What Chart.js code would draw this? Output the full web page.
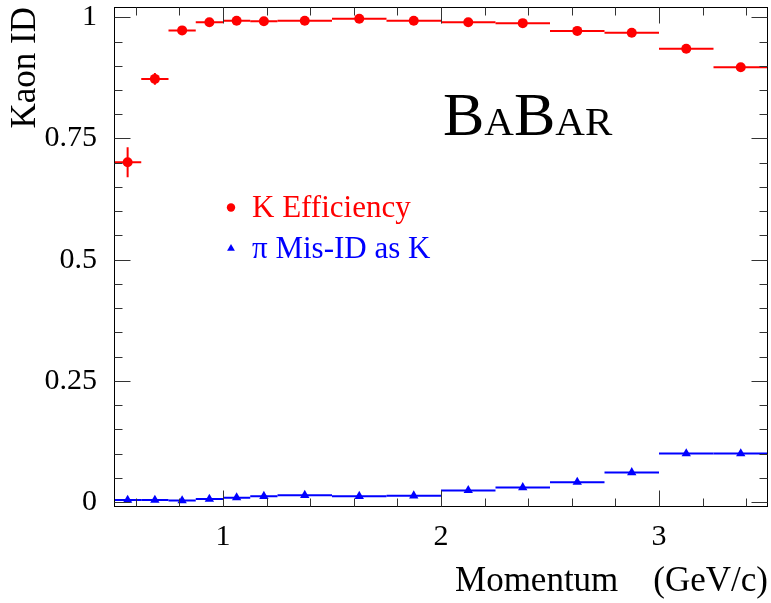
<!DOCTYPE html>
<html><head><meta charset="utf-8">
<script src="https://cdn.jsdelivr.net/npm/chart.js@4.4.0/dist/chart.umd.min.js"></script>
<style>html,body{margin:0;padding:0;background:#fff;overflow:hidden}canvas{display:block}</style>
</head><body>
<canvas id="c" width="771" height="603"></canvas>
<script>
// ---- data ----
const binLow  = [0.5, 0.625, 0.75, 0.875, 1.0, 1.125, 1.25, 1.5, 1.75, 2.0, 2.25, 2.5, 2.75, 3.0, 3.25];
const binHigh = [0.625, 0.75, 0.875, 1.0, 1.125, 1.25, 1.5, 1.75, 2.0, 2.25, 2.5, 2.75, 3.0, 3.25, 3.5];
const binCenter = [0.5625, 0.6875, 0.8125, 0.9375, 1.0625, 1.1875, 1.375, 1.625, 1.875, 2.125, 2.375, 2.625, 2.875, 3.125, 3.375];
const kaonEff = [0.701, 0.873, 0.973, 0.990, 0.993, 0.992, 0.993, 0.997, 0.993, 0.990, 0.988, 0.972, 0.968, 0.935, 0.897];
const kaonErr = [0.031, 0.012, 0.005, 0.003, 0.003, 0.003, 0.002, 0.002, 0.002, 0.002, 0.002, 0.003, 0.003, 0.004, 0.005];
const pionMisId = [0.004, 0.004, 0.003, 0.006, 0.009, 0.012, 0.014, 0.012, 0.013, 0.024, 0.030, 0.041, 0.061, 0.100, 0.100];
const pionErr = [0.002, 0.002, 0.002, 0.002, 0.002, 0.002, 0.002, 0.002, 0.002, 0.002, 0.002, 0.003, 0.003, 0.004, 0.004];
const xMajorTicks = [1, 2, 3];
const xTickLabels = ['1', '2', '3'];
const xMinorTicks = [0.6, 0.8, 1.2, 1.4, 1.6, 1.8, 2.2, 2.4, 2.6, 2.8, 3.2, 3.4];
const yMajorTicks = [0, 0.25, 0.5, 0.75, 1];
const yTickLabels = ['0', '0.25', '0.5', '0.75', '1'];
const yMinorTicks = [0.05, 0.1, 0.15, 0.2, 0.3, 0.35, 0.4, 0.45, 0.55, 0.6, 0.65, 0.7, 0.8, 0.85, 0.9, 0.95];
const seriesNames = ['K Efficiency', 'π Mis-ID as K'];
const xTitle = 'Momentum    (GeV/c)';
const yTitle = 'Kaon ID';

const RED = '#ff0000', BLUE = '#0000ff';
const SERIF = "'Liberation Serif', 'Times New Roman', serif";

function labelFor(v, majors, labels) {
  for (let i = 0; i < majors.length; i++) if (Math.abs(majors[i] - v) < 1e-6) return labels[i];
  return '';
}

const errorBars = {
  id: 'errorBars',
  beforeDatasetsDraw(chart) {
    const ctx = chart.ctx, xs = chart.scales.x, ys = chart.scales.y;
    const sets = [[kaonEff, kaonErr, RED], [pionMisId, pionErr, BLUE]];
    ctx.save();
    ctx.lineWidth = 2;
    sets.forEach(([vals, errs, col]) => {
      ctx.strokeStyle = col;
      for (let i = 0; i < vals.length; i++) {
        const yp = ys.getPixelForValue(vals[i]);
        ctx.beginPath();
        ctx.moveTo(xs.getPixelForValue(binLow[i]), yp);
        ctx.lineTo(xs.getPixelForValue(binHigh[i]), yp);
        const xc = xs.getPixelForValue(binCenter[i]);
        ctx.moveTo(xc, ys.getPixelForValue(vals[i] - errs[i]));
        ctx.lineTo(xc, ys.getPixelForValue(vals[i] + errs[i]));
        ctx.stroke();
      }
    });
    ctx.restore();
  }
};

const frameTicks = {
  id: 'frameTicks',
  afterDraw(chart) {
    const ctx = chart.ctx, a = chart.chartArea, xs = chart.scales.x, ys = chart.scales.y;
    ctx.save();
    ctx.strokeStyle = '#000';
    ctx.lineWidth = 1;
    const L = Math.round(a.left) + 0.5, R = Math.round(a.right) - 0.5;
    const T = Math.round(a.top) + 0.5, B = Math.round(a.bottom) - 0.5;
    ctx.strokeRect(L, T, R - L, B - T);
    ctx.strokeStyle = '#333';
    const major = 16, minor = 8;
    ctx.beginPath();
    const xt = (v, len) => {
      const p = Math.round(xs.getPixelForValue(v)) + 0.5;
      ctx.moveTo(p, B); ctx.lineTo(p, B - len);
      ctx.moveTo(p, T); ctx.lineTo(p, T + len);
    };
    const yt = (v, len) => {
      const p = Math.round(ys.getPixelForValue(v)) + 0.5;
      ctx.moveTo(L, p); ctx.lineTo(L + len, p);
      ctx.moveTo(R, p); ctx.lineTo(R - len, p);
    };
    xMajorTicks.forEach(v => xt(v, major));
    xMinorTicks.forEach(v => xt(v, minor));
    yMajorTicks.forEach(v => yt(v, major));
    yMinorTicks.forEach(v => yt(v, minor));
    ctx.stroke();
    ctx.restore();
  }
};

const annotations = {
  id: 'annotations',
  afterDraw(chart) {
    const ctx = chart.ctx;
    ctx.save();
    // BaBar logo text
    ctx.fillStyle = '#000';
    ctx.textBaseline = 'alphabetic';
    ctx.textAlign = 'left';
    let x = 443;
    const by = 135;
    const parts = [['B', 62], ['A', 41], ['B', 62], ['AR', 41]];
    parts.forEach(([t, s]) => {
      ctx.font = s + 'px ' + SERIF;
      ctx.fillText(t, x, by);
      x += ctx.measureText(t).width;
    });
    // legend
    ctx.font = '31px ' + SERIF;
    ctx.fillStyle = RED;
    ctx.beginPath(); ctx.arc(231, 207.5, 4.2, 0, Math.PI * 2); ctx.fill();
    ctx.fillText(seriesNames[0], 252, 217);
    ctx.fillStyle = BLUE;
    const r = 4.5, cx = 231, cy = 248.5;
    ctx.beginPath();
    ctx.moveTo(cx, cy - r);
    ctx.lineTo(cx + r * Math.sin(2 * Math.PI / 3), cy - r * Math.cos(2 * Math.PI / 3));
    ctx.lineTo(cx + r * Math.sin(4 * Math.PI / 3), cy - r * Math.cos(4 * Math.PI / 3));
    ctx.closePath(); ctx.fill();
    ctx.fillText(seriesNames[1], 252, 257.5);
    ctx.restore();
  }
};

new Chart(document.getElementById('c'), {
  type: 'scatter',
  data: {
    datasets: [
      {
        label: seriesNames[0],
        data: binCenter.map((x, i) => ({ x, y: kaonEff[i] })),
        pointStyle: 'circle', pointRadius: 5, backgroundColor: RED, borderColor: RED, borderWidth: 0, showLine: false
      },
      {
        label: seriesNames[1],
        data: binCenter.map((x, i) => ({ x, y: pionMisId[i] })),
        pointStyle: 'triangle', pointRadius: 5.4, backgroundColor: BLUE, borderColor: BLUE, borderWidth: 0, showLine: false
      }
    ]
  },
  options: {
    responsive: false,
    animation: false,
    devicePixelRatio: 1,
    layout: { autoPadding: false, padding: { top: 7, right: 3, left: 0, bottom: 0 } },
    plugins: { legend: { display: false }, tooltip: { enabled: false } },
    scales: {
      x: {
        type: 'linear', min: 0.5, max: 3.5,
        grid: { display: false, drawTicks: false },
        border: { display: false },
        afterBuildTicks: s => { s.ticks = xMajorTicks.concat(xMinorTicks).sort((a, b) => a - b).map(v => ({ value: v })); },
        ticks: {
          autoSkip: false, maxRotation: 0, padding: 12, color: '#000',
          font: { family: SERIF, size: 30 },
          callback: v => labelFor(v, xMajorTicks, xTickLabels)
        },
        title: { display: true, text: xTitle, align: 'end', color: '#000', font: { family: SERIF, size: 35 }, padding: 0 },
        afterFit: s => { s.height = 96; s.paddingLeft = 0; s.paddingRight = 0; }
      },
      y: {
        type: 'linear', min: -0.0103, max: 1.0213,
        grid: { display: false, drawTicks: false },
        border: { display: false },
        afterBuildTicks: s => { s.ticks = yMajorTicks.concat(yMinorTicks).sort((a, b) => a - b).map(v => ({ value: v })); },
        ticks: {
          autoSkip: false, padding: 17, color: '#000',
          font: { family: SERIF, size: 30 },
          callback: v => labelFor(v, yMajorTicks, yTickLabels)
        },
        title: { display: true, text: yTitle, align: 'end', color: '#000', font: { family: SERIF, size: 35 }, padding: { top: 5, bottom: 0 } },
        afterFit: s => { s.width = 114; s.paddingTop = 0; s.paddingBottom = 0; }
      }
    }
  },
  plugins: [errorBars, frameTicks, annotations]
});
</script>
</body></html>
